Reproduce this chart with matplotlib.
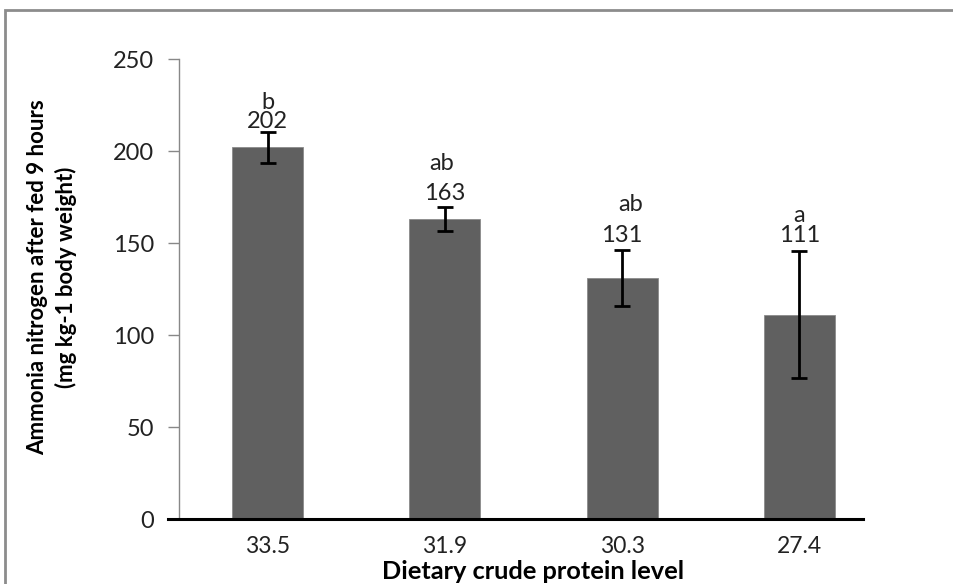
import matplotlib.pyplot as plt
from matplotlib.patches import Rectangle

# data
protein_levels = ["33.5", "31.9", "30.3", "27.4"]
ammonia = [202, 163, 131, 111]
errors = [8.5, 6.5, 15, 34.5]
value_labels = ["202", "163", "131", "111"]
letters = ["b", "ab", "ab", "a"]
# heights (data units) where the annotation text sits
value_label_y = [216, 177, 154, 154]
letter_y = [226.5, 193, 171, 165]
letter_dx = [0, -0.02, 0.05, 0]

plt.rcParams["font.family"] = ["Lato", "DejaVu Sans"]

fig = plt.figure(figsize=(9.54, 5.84), dpi=100)
ax = fig.add_axes([179 / 954, 1 - 519 / 584, (888 - 179) / 954, (519 - 59) / 584])

x = range(len(protein_levels))
ax.bar(x, ammonia, width=0.4, color="#606060", edgecolor="#8a8a8a", linewidth=0.6,
       zorder=2)
ax.errorbar(x, ammonia, yerr=errors, fmt="none", ecolor="black", elinewidth=2,
            capsize=6, capthick=2, zorder=3)

fs = 17
for i in x:
    ax.text(i, value_label_y[i], value_labels[i], ha="center", va="center",
            fontsize=fs, color="#222222")
    ax.text(i + letter_dx[i], letter_y[i], letters[i], ha="center", va="center",
            fontsize=fs, color="#222222")

ax.set_xlim(-0.5, 3.5)
ax.set_ylim(0, 250)
ax.set_yticks([0, 50, 100, 150, 200, 250])
ax.set_xticks(list(x))
ax.set_xticklabels(protein_levels)
ax.tick_params(axis="y", direction="out", length=8, width=1, color="#888888",
               labelsize=17, labelcolor="#222222", pad=10)
ax.tick_params(axis="x", length=0, labelsize=16.5, labelcolor="#222222", pad=12)

for side in ["top", "right"]:
    ax.spines[side].set_visible(False)
ax.spines["left"].set_color("#888888")
ax.spines["left"].set_linewidth(1)
ax.spines["bottom"].set_color("black")
ax.spines["bottom"].set_linewidth(2.2)
ax.spines["bottom"].set_bounds(-0.56, 3.36)
ax.spines["bottom"].set_zorder(4)

fig.text((179 + 888) / 2 / 954, 1 - 579 / 584, "Dietary crude protein level",
         ha="center", va="baseline", fontsize=18.3, fontweight="bold")
fig.text(38 / 954, 1 - 277 / 584, "Ammonia nitrogen after fed 9 hours",
         rotation=90, ha="center", va="center", fontsize=16, fontweight="bold")
fig.text(66 / 954, 1 - 277 / 584, "(mg kg-1 body weight)",
         rotation=90, ha="center", va="center", fontsize=16, fontweight="bold")

# outer chart-area frame
fig.patches.append(Rectangle((5 / 954, -0.05), 1.0, 1 - 10 / 584 + 0.05,
                             transform=fig.transFigure, fill=False,
                             edgecolor="#8c8c8c", linewidth=2))

fig.savefig("out.png", dpi=100)
